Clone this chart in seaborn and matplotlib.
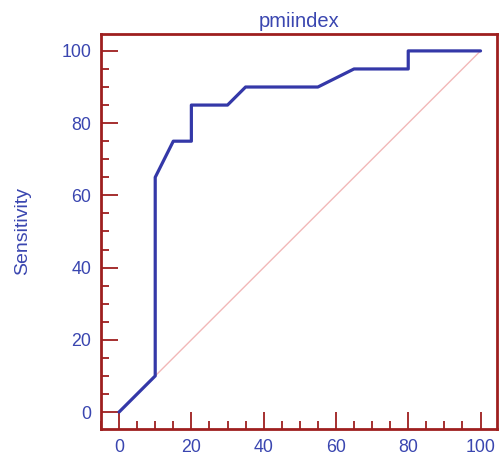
import matplotlib
matplotlib.use('Agg')
import matplotlib.pyplot as plt
import seaborn as sns
from matplotlib.ticker import MultipleLocator

sns.set_theme(style='white')
plt.rcParams['font.family'] = ['Liberation Sans', 'DejaVu Sans']

# ROC curve points (100-Specificity, Sensitivity)
fpr = [0, 10, 10, 15, 20, 20, 30, 35, 55, 57, 65, 80, 80, 100]
tpr = [0, 10, 65, 75, 75, 85, 85, 90, 90, 91, 95, 95, 100, 100]
diag = [0, 100]

FRAME = '#9e1f1f'
LINE = '#3438a8'
TEXT = '#3a46b0'
DIAG = '#f2b8b8'

fig = plt.figure(figsize=(5.01, 4.61), dpi=100)
ax = fig.add_axes([0.2016, 0.0694, 0.790, 0.857])

ax.plot(diag, diag, color=DIAG, linewidth=1.0, zorder=1)
sns.lineplot(x=fpr, y=tpr, sort=False, estimator=None, color=LINE,
             linewidth=2.3, ax=ax, zorder=2)

ax.set_xlim(-5, 104.5)
ax.set_ylim(-4.7, 104.7)
ax.xaxis.set_major_locator(MultipleLocator(20))
ax.xaxis.set_minor_locator(MultipleLocator(5))
ax.yaxis.set_major_locator(MultipleLocator(20))
ax.yaxis.set_minor_locator(MultipleLocator(5))
ax.tick_params(which='major', direction='in', length=12, width=1.3,
               color=FRAME, labelcolor=TEXT, labelsize=12.8, pad=7,
               bottom=True, left=True)
ax.tick_params(which='minor', direction='in', length=6, width=1.3,
               color=FRAME, bottom=True, left=True)

for s in ax.spines.values():
    s.set_color(FRAME)
    s.set_linewidth(2)

ax.set_title('pmiindex', color=TEXT, fontsize=14.5, pad=5)
ax.set_ylabel('Sensitivity', color=TEXT, fontsize=14, labelpad=22)
ax.set_xlabel('')
ax.grid(False)

plt.savefig('out.png', dpi=100)
